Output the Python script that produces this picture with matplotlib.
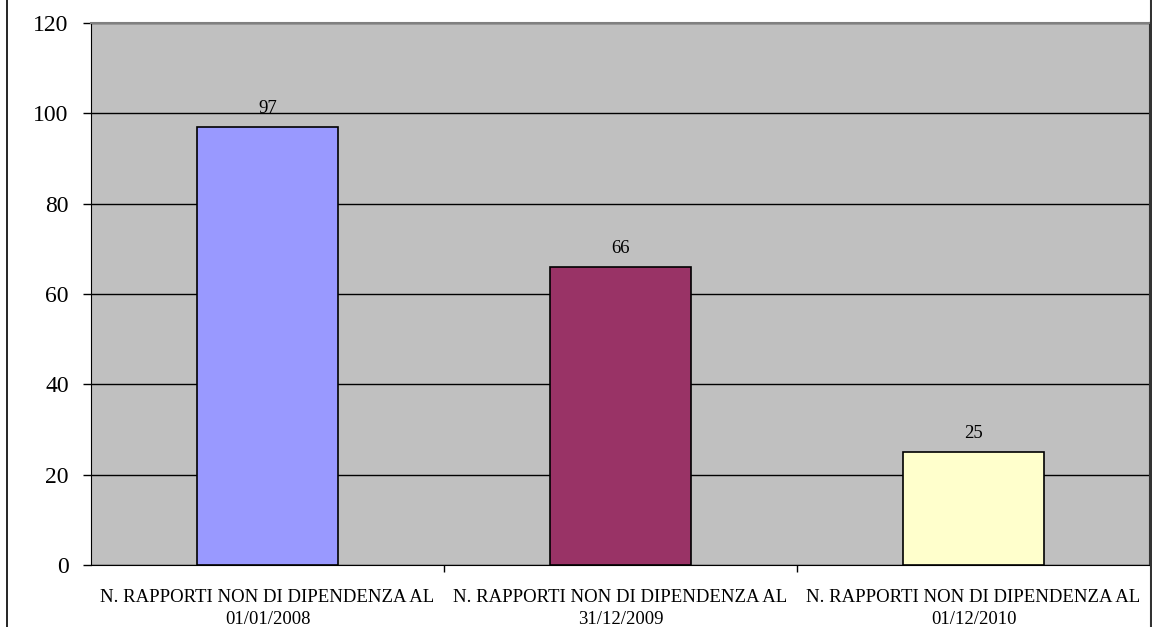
import matplotlib.pyplot as plt
from matplotlib.lines import Line2D

# Data
categories = [
    "N. RAPPORTI NON DI DIPENDENZA AL\n01/01/2008",
    "N. RAPPORTI NON DI DIPENDENZA AL\n31/12/2009",
    "N. RAPPORTI NON DI DIPENDENZA AL\n01/12/2010",
]
values = [97, 66, 25]
bar_colors = ["#9999FF", "#993366", "#FFFFCC"]
y_ticks = [0, 20, 40, 60, 80, 100, 120]

plt.rcParams['font.family'] = ['Liberation Serif', 'DejaVu Serif']

fig = plt.figure(figsize=(11.52, 6.27), dpi=100)
ax = fig.add_axes([91 / 1152, 1 - 565 / 627, (1150 - 91) / 1152, (565 - 23) / 627])
ax.set_facecolor("#C0C0C0")

x = list(range(len(categories)))
bars = ax.bar(x, values, width=0.4, color=bar_colors, edgecolor="black", linewidth=1.2, zorder=3)
for xi, v in zip(x, values):
    ax.text(xi, v + 2.2, str(v), ha="center", va="bottom", fontsize=13.5, zorder=4)

ax.set_xlim(-0.5, len(categories) - 0.5)
ax.set_ylim(0, 120)
ax.set_yticks(y_ticks)
ax.set_yticklabels([str(t) for t in y_ticks], fontsize=17)
ax.yaxis.grid(True, color="black", linewidth=1.0, zorder=1)
ax.set_axisbelow(True)
ax.tick_params(axis="y", direction="out", length=6, width=1, pad=10)

# categories between tick marks
ax.set_xticks(x)
ax.set_xticklabels(categories, fontsize=13.5, linespacing=1.4)
ax.tick_params(axis="x", length=0, pad=17)
ax.set_xticks([0.5, 1.5], minor=True)
ax.tick_params(axis="x", which="minor", direction="out", length=5, width=1)

ax.spines["left"].set_color("black")
ax.spines["bottom"].set_color("black")
ax.spines["top"].set_color("#808080")
ax.spines["top"].set_linewidth(1.5)
ax.spines["right"].set_color("#333333")
ax.spines["right"].set_linewidth(1.5)

# outer frame lines
fig.add_artist(Line2D([6.5 / 1152, 6.5 / 1152], [0, 1], color="black", linewidth=1.2))
fig.add_artist(Line2D([1151 / 1152, 1151 / 1152], [0, 1], color="#333333", linewidth=1.5))

fig.savefig("out.png", dpi=100)
